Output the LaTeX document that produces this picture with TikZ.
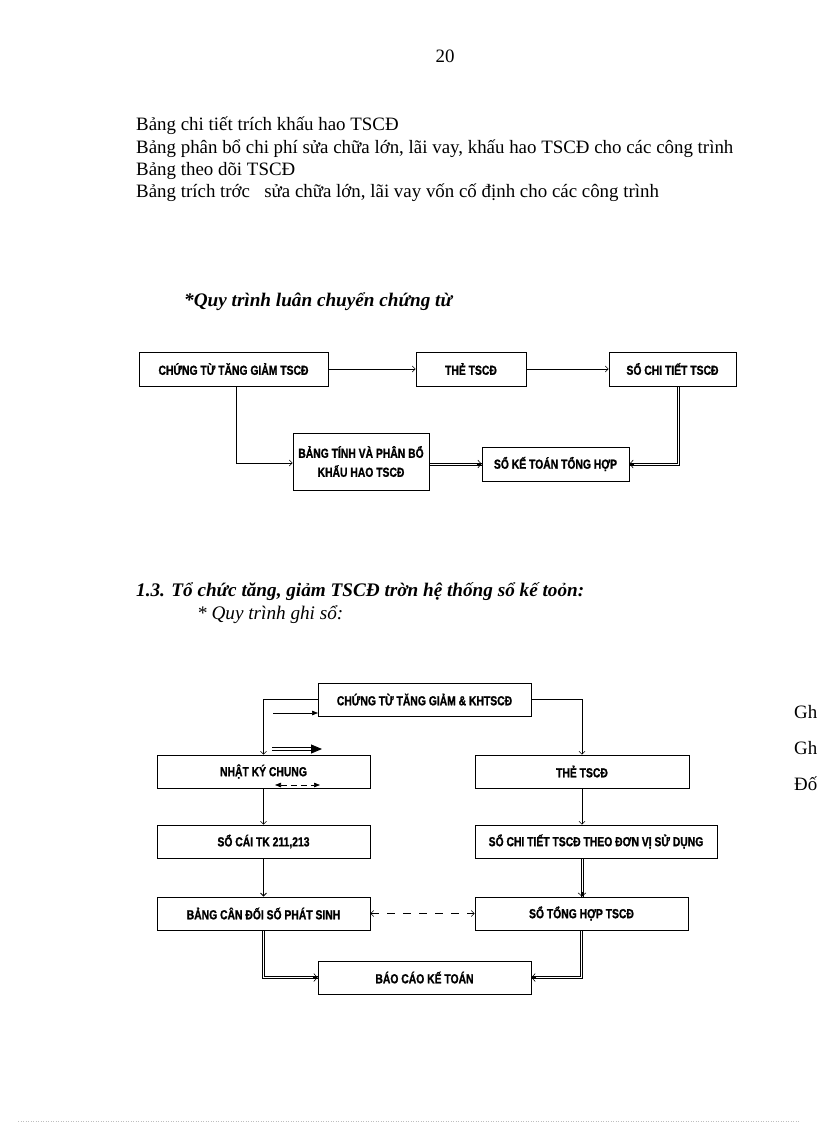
\documentclass[tikz,border=0pt]{standalone}
\usepackage{fontspec}
\setmainfont{Liberation Serif}
\newfontfamily\boxfont[FakeStretch=0.79, BoldFeatures={FakeBold=1.2}]{Liberation Sans}
\usetikzlibrary{arrows.meta,calc}
\begin{document}
\begin{tikzpicture}[x=1pt,y=-1pt]
\tikzset{
 box/.style={draw, line width=0.7pt, inner sep=0pt, align=center, font=\boxfont\bfseries\fontsize{13.1}{19}\selectfont},
 body/.style={anchor=base west, inner sep=0pt, font=\fontsize{18.9}{22}\selectfont},
 arr/.style={line width=0.6pt, -{Straight Barb[length=3pt,width=6pt]}},
 ln/.style={line width=0.6pt},
 tip/.style={line width=0.6pt, -{Straight Barb[length=3.5pt,width=8pt]}},
 dsh/.style={line width=0.6pt, dash pattern=on 8pt off 8pt, {Straight Barb[length=3pt,width=6pt]}-{Straight Barb[length=3pt,width=6pt]}},
 solidarr/.style={line width=0.7pt, -{Triangle[length=6pt,width=4.5pt]}},
}
\useasboundingbox[fill=white] (0,0) rectangle (816,1123);

% page number and text
\node[body, anchor=base] (pg) at (445,63) {20};
\node[body] (t1) at (136,131) {Bảng chi tiết trích khấu hao TSCĐ};
\node[body] (t2) at (136,153.3) {Bảng phân bổ chi phí sửa chữa lớn, lãi vay, khấu hao TSCĐ cho các công trình};
\node[body] (t3) at (136,175.6) {Bảng theo dõi TSCĐ};
\node[body] (t4) at (136,198) {Bảng trích trớc\ \ \ sửa chữa lớn, lãi vay vốn cố định cho các công trình};

\node[anchor=base west, inner sep=0pt, font=\bfseries\itshape\fontsize{19.2}{22}\selectfont] (h1) at (184,306) {*Quy trình luân chuyển chứng từ};

% diagram 1
\node[box, minimum width=189, minimum height=34] (A) at (233.5,369) {CHỨNG TỪ TĂNG GIẢM TSCĐ};
\node[box, minimum width=110, minimum height=34] (B) at (471,369) {THẺ TSCĐ};
\node[box, minimum width=127, minimum height=34] (C) at (672.5,369) {SỔ CHI TIẾT TSCĐ};
\node[box, minimum width=136, minimum height=57] (D) at (361,461.5) {BẢNG TÍNH VÀ PHÂN BỔ\\KHẤU HAO TSCĐ};
\node[box, minimum width=147, minimum height=34] (E) at (555.5,464) {SỔ KẾ TOÁN TỔNG HỢP};

\draw[arr] (A) -- (B);
\draw[arr] (B) -- (C);
\draw[arr] ($(A.south)+(2.5,0)$) |- ($(D.west)+(0,1.5)$);
% D -> E double
\draw[ln] ($(D.east |- E.west)+(0,-1.2)$) -- ($(E.west)+(0,-1.2)$);
\draw[ln] ($(D.east |- E.west)+(0,1.2)$) -- ($(E.west)+(0,1.2)$);
\draw[tip] ($(E.west)+(-5,0)$) -- (E.west);
% C -> E double
\draw[ln] ($(C.south)+(6.7,0)$) |- ($(E.east)+(0,1.2)$);
\draw[ln] ($(C.south)+(4.3,0)$) |- ($(E.east)+(0,-1.2)$);
\draw[tip] ($(E.east)+(5,0)$) -- (E.east);

% heading 2
\node[anchor=base west, inner sep=0pt, font=\bfseries\itshape\fontsize{19.2}{22}\selectfont] (h2) at (136,596) {1.3. Tổ chức tăng, giảm TSCĐ trờn hệ thống sổ kế toỏn:};
\node[anchor=base west, inner sep=0pt, font=\itshape\fontsize{19.2}{22}\selectfont] (h3) at (197,619) {* Quy trình ghi sổ:};

% diagram 2
\node[box, minimum width=213, minimum height=33] (F) at (424.5,699.5) {CHỨNG TỪ TĂNG GIẢM \& KHTSCĐ};
\node[box, minimum width=213, minimum height=33] (G) at (263.5,771.5) {NHẬT KÝ CHUNG};
\node[box, minimum width=214, minimum height=33] (H) at (582,771.5) {THẺ TSCĐ};
\node[box, minimum width=213, minimum height=33] (I) at (263.5,841.5) {SỔ CÁI TK 211,213};
\node[box, minimum width=242, minimum height=33] (J) at (596,841.5) {SỔ CHI TIẾT TSCĐ THEO ĐƠN VỊ SỬ DỤNG};
\node[box, minimum width=213, minimum height=33] (K) at (263.5,913.5) {BẢNG CÂN ĐỐI SỐ PHÁT SINH};
\node[box, minimum width=213, minimum height=33] (L) at (581.5,913.5) {SỔ TỔNG HỢP TSCĐ};
\node[box, minimum width=213, minimum height=33] (M) at (424.5,977.5) {BÁO CÁO KẾ TOÁN};

\draw[arr] (F.west) -| (G.north);
\draw[arr] (F.east) -| (H.north);
\draw[arr] (G) -- (I);
\draw[arr, line width=0.9pt] (I) -- (K);
\draw[arr] (H.south) -- (H.south |- J.north);
% J -> L double
\draw[ln] ($(J.south -| H.south)+(-1.2,0)$) -- ($(L.north -| H.south)+(-1.2,0)$);
\draw[ln] ($(J.south -| H.south)+(1.2,0)$) -- ($(L.north -| H.south)+(1.2,0)$);
\draw[tip] ($(L.north -| H.south)+(0,-5)$) -- (L.north -| H.south);
\draw[dsh] (K) -- (L);
% K -> M double
\draw[ln] ($(K.south)+(-1.2,0)$) |- ($(M.west)+(0,1.2)$);
\draw[ln] ($(K.south)+(1.2,0)$) |- ($(M.west)+(0,-1.2)$);
\draw[tip] ($(M.west)+(-5,0)$) -- (M.west);
% L -> M double
\draw[ln] ($(L.south)+(1.2,0)$) |- ($(M.east)+(0,1.2)$);
\draw[ln] ($(L.south)+(-1.2,0)$) |- ($(M.east)+(0,-1.2)$);
\draw[tip] ($(M.east)+(5,0)$) -- (M.east);

% legend arrows and labels
\coordinate (la1) at (273,713);
\coordinate (lb1) at (318,713);
\coordinate (la2) at (272,749);
\coordinate (lb2) at (322,749);
\coordinate (la3) at (275,785);
\coordinate (lb3) at (320,785);
\draw[solidarr] (la1) -- (lb1);
\draw[double, double distance=1.3pt, line width=0.9pt, -{Triangle[length=11pt,width=9pt]}] (la2) -- (lb2);
\draw[line width=0.7pt, dash pattern=on 6pt off 4pt, {Triangle[length=6pt,width=4.5pt]}-{Triangle[length=6pt,width=4.5pt]}] (la3) -- (lb3);

\node[body] (g1) at (794,718) {Gh};
\node[body] (g2) at (794,754) {Gh};
\node[body] (g3) at (794,790) {Đố};

% faint dotted line at page bottom
\coordinate (bl) at (18,1121);
\coordinate (br) at (800,1121);
\draw[black!25, line width=0.5pt, dotted] (bl) -- (br);
\end{tikzpicture}
\end{document}
